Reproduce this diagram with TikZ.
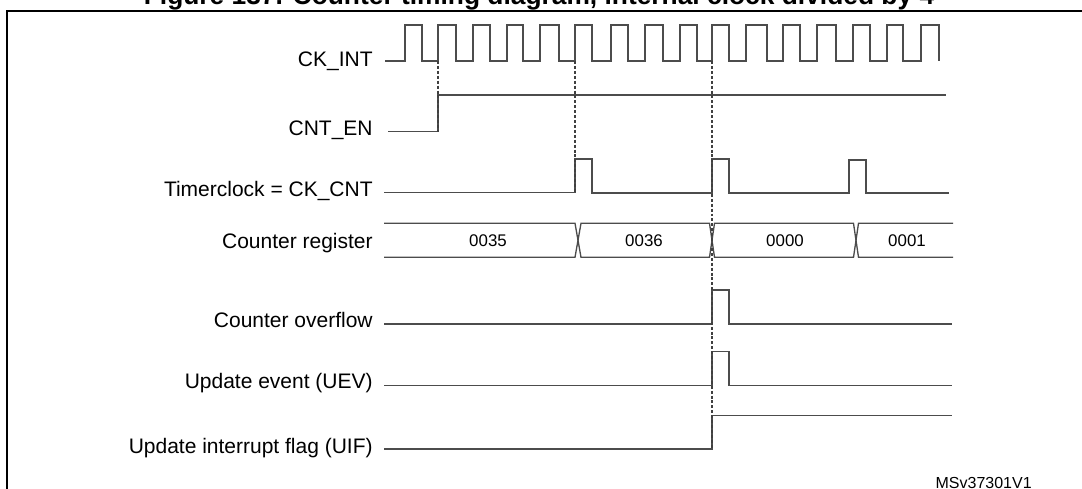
\documentclass[tikz,border=0pt]{standalone}
\usepackage{fontspec}
\setmainfont{Liberation Sans}
\usepackage{tikz}
\tikzstyle{wave} = [draw, line width=0.75pt, color=black!70]
\tikzstyle{syncline} = [draw, line width=0.6pt, color=black!75, dash pattern=on 1.7pt off 1.1pt]
\tikzstyle{siglabel} = [anchor=base east, inner sep=0pt, font=\fontsize{11.95}{14}\selectfont]
\tikzstyle{busvalue} = [inner sep=0pt, font=\fontsize{9.6}{11}\selectfont]

\begin{document}
\begin{tikzpicture}[x=0.02cm, y=-0.02cm]
	\clip (0,0) rectangle (1082,488);
	% -------------- Frame and caption --------------
	\node[anchor=base, inner sep=0pt, font=\bfseries\fontsize{15}{18}\selectfont] (caption) at (539,4) {Figure 137. Counter timing diagram, internal clock divided by 4};
	\draw[line width=1.15pt] (7,490) -- (7,10.7) -- (1084,10.7);
	\node[anchor=base east, inner sep=0pt, font=\fontsize{9.1}{11}\selectfont] (figref) at (1032,488) {MSv37301V1};
	% -------------- Signal names --------------
	\node[siglabel] (ckint)  at (373,66.5) {CK\_INT};
	\node[siglabel] (cnten)  at (373,135)  {CNT\_EN};
	\node[siglabel] (ckcnt)  at (373,196)  {Timerclock = CK\_CNT};
	\node[siglabel] (cntreg) at (373,248)  {Counter register};
	\node[siglabel] (ovf)    at (373,327)  {Counter overflow};
	\node[siglabel] (uev)    at (373,388)  {Update event (UEV)};
	\node[siglabel] (uif)    at (373,453)  {Update interrupt flag (UIF)};
	% -------------- CK_INT --------------
	\draw[wave] (385,61)
		-- (405,61) -- (405,25) -- (422,25) -- (422,61)
		-- (438,61) -- (438,25) -- (456,25) -- (456,61)
		-- (473,61) -- (473,25) -- (490,25) -- (490,61)
		-- (507,61) -- (507,25) -- (523,25) -- (523,61)
		-- (540,61) -- (540,25) -- (559,25) -- (559,61)
		-- (575,61) -- (575,25) -- (592,25) -- (592,61)
		-- (611,61) -- (611,25) -- (628,25) -- (628,61)
		-- (645,61) -- (645,25) -- (663,25) -- (663,61)
		-- (680,61) -- (680,25) -- (697,25) -- (697,61)
		-- (712,61) -- (712,25) -- (729,25) -- (729,61)
		-- (746,61) -- (746,25) -- (767,25) -- (767,61)
		-- (783,61) -- (783,25) -- (800,25) -- (800,61)
		-- (817,61) -- (817,25) -- (836,25) -- (836,61)
		-- (853,61) -- (853,25) -- (870,25) -- (870,61)
		-- (887,61) -- (887,25) -- (903,25) -- (903,61)
		-- (921,61) -- (921,25) -- (939,25) -- (939,61);
	% -------------- CNT_EN --------------
	\draw[wave] (388,131.5) -- (438,131.5) -- (438,95) -- (946,95);
	% -------------- Timerclock = CK_CNT --------------
	\draw[wave] (384,192.5) -- (575,192.5) -- (575,159) -- (592,159) -- (592,193)
		-- (712,193) -- (712,159) -- (729,159) -- (729,193)
		-- (849,193) -- (849,160) -- (866,160) -- (866,193) -- (949,193);
	% -------------- Counter register --------------
	\draw[wave] (384,223.3) -- (575,223.3) -- (581,257.3) -- (709.5,257.3) -- (714.5,223.3) -- (853.5,223.3) -- (858.5,257.3) -- (953,257.3);
	\draw[wave] (384,257.3) -- (575,257.3) -- (581,223.3) -- (709.5,223.3) -- (714.5,257.3) -- (853.5,257.3) -- (858.5,223.3) -- (953,223.3);
	\node[busvalue] (v35) at (488,240.3) {0035};
	\node[busvalue] (v36) at (644,240.3) {0036};
	\node[busvalue] (v00) at (785,240.3) {0000};
	\node[busvalue] (v01) at (907,240.3) {0001};
	% -------------- Counter overflow --------------
	\draw[wave] (384,324) -- (712,324) -- (712,290) -- (729,290) -- (729,324) -- (952,324);
	% -------------- Update event (UEV) --------------
	\draw[wave] (384,385.7) -- (712,385.7) -- (712,351.7) -- (729,351.7) -- (729,385.7) -- (952,385.7);
	% -------------- Update interrupt flag (UIF) --------------
	\draw[wave] (384,449) -- (712,449) -- (712,415.3) -- (952,415.3);
	% -------------- Sync marks --------------
	\draw[syncline] (438,61) -- (438,131.5);
	\draw[syncline] (575,61) -- (575,192.5);
	\draw[syncline] (712,61) -- (712,449);
\end{tikzpicture}
\end{document}
